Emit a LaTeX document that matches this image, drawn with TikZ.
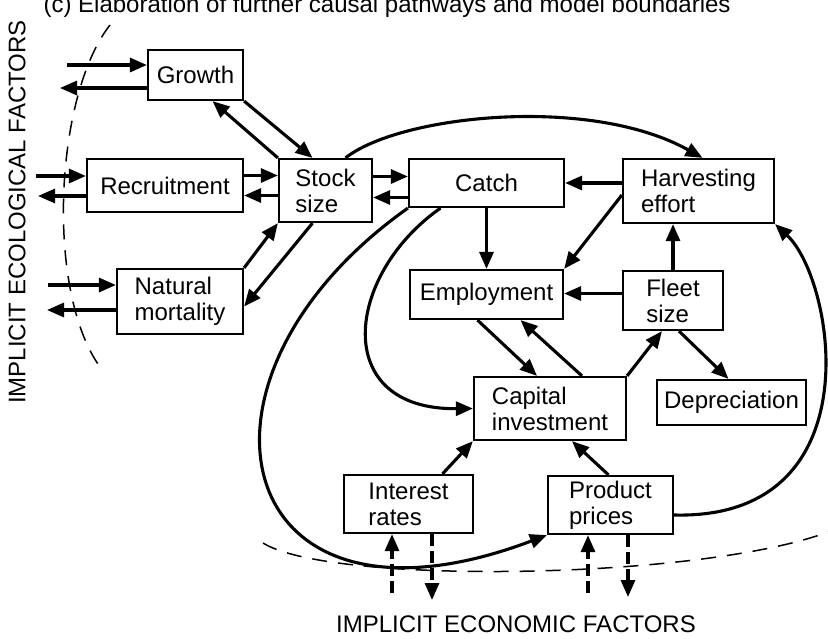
\documentclass[tikz,border=0pt]{standalone}
\usepackage{fontspec}
\setmainfont{Liberation Sans}
\usetikzlibrary{arrows.meta}
\tikzstyle{line} = [draw, line width=3.1pt, -{Triangle[length=17pt,width=14pt]}]
\tikzstyle{box} = [draw, line width=2.2pt, align=left, inner sep=0pt]
\tikzstyle{boundary} = [draw, line width=1.5pt, dash pattern=on 15pt off 11pt]
\tikzstyle{outside} = [line, dash pattern=on 12pt off 5pt]

\begin{document}
\begin{tikzpicture}[x=1pt, y=-1pt, font=\fontsize{24}{26}\selectfont]
\useasboundingbox[fill=white] (0,0) rectangle (828,638);

% Heading and boundary labels
\node[anchor=base west] (title) at (40,12) {(c) Elaboration of further causal pathways and model boundaries};
\node[rotate=90] (ecolabel) at (17,212) {IMPLICIT ECOLOGICAL FACTORS};
\node (econlabel) at (516,624) {IMPLICIT ECONOMIC FACTORS};

% Draw the boxes
\foreach \name/\x/\y/\w/\h/\txt in {growth/195.5/75/95/50/{Growth},
                                    recruit/165/185.5/156/53/{Recruitment},
                                    stock/325.5/190.5/93/63/{Stock\\size},
                                    mortality/180/301.5/126/65/{Natural\\mortality},
                                    catch/486.5/183/155/48/{Catch},
                                    harvest/698.5/191/151/64/{Harvesting\\effort},
                                    employ/486.5/294.5/153/49/{Employment},
                                    fleet/673/300.5/100/59/{Fleet\\size},
                                    capital/550/408.5/152/63/{Capital\\investment},
                                    deprec/731.5/402.5/149/45/{Depreciation},
                                    interest/408.5/504/129/58/{Interest\\rates},
                                    prices/610.5/505/125/58/{Product\\prices}}
    \node[box, minimum width=\w pt, minimum height=\h pt] (\name) at (\x,\y) {\txt};

% Model boundaries (dashed)
\path[boundary] (110,25) .. controls (55,95) and (45,290) .. (100,367);
\path[boundary] (263,543) .. controls (330,585) and (700,580) .. (828,532);

% Ecological inputs and outputs
\coordinate (gin) at (67,65);
\coordinate (gout) at (60,88);
\coordinate (rin) at (36,176);
\coordinate (rout) at (38,196);
\coordinate (mortin) at (48,285);
\coordinate (mortout) at (47,310);
\draw[line] (gin) -- (gin -| growth.west);
\draw[line] (gout -| growth.west) -- (gout);
\draw[line] (rin) -- (rin -| recruit.west);
\draw[line] (rout -| recruit.west) -- (rout);
\draw[line] (mortin) -- (mortin -| mortality.west);
\draw[line] (mortout -| mortality.west) -- (mortout);

% Stock size and its neighbours
\draw[line] (stock.north west) -- ([xshift=17pt]growth.south);
\draw[line] (growth.south east) -- ([xshift=-13pt]stock.north);
\draw[line] ([yshift=10pt]recruit.east) -- ([yshift=10pt]recruit.east -| stock.west);
\draw[line] ([yshift=-10pt]recruit.east -| stock.west) -- ([yshift=-10pt]recruit.east);
\draw[line] (mortality.north east) -- (stock.south west);
\draw[line] ([xshift=-13pt]stock.south) -- ([yshift=-5pt]mortality.east);
\draw[line] ([yshift=14pt]stock.east) -- ([yshift=14pt]stock.east -| catch.west);
\draw[line] ([yshift=-7pt]stock.east -| catch.west) -- ([yshift=-7pt]stock.east);

% Fleet, effort and employment
\draw[line] (harvest.west |- catch.east) -- (catch.east);
\draw[line] ([yshift=-4pt]harvest.west) -- (employ.north east);
\draw[line] (catch.south) -- (employ.north);
\draw[line] ([yshift=7pt]fleet.west) -- ([yshift=7pt]fleet.west -| employ.east);
\draw[line] (fleet.north) -- (fleet.north |- harvest.south);
\draw[line] ([xshift=-9pt]employ.south) -- ([xshift=-13pt]capital.north);
\draw[line] ([xshift=32pt]capital.north) -- ([xshift=34pt]employ.south);
\draw[line] (capital.north east) -- ([xshift=-11pt]fleet.south);
\draw[line] ([xshift=6pt]fleet.south) -- ([xshift=-3pt]deprec.north);
\draw[line] ([xshift=34pt]interest.north) -- (capital.south west);
\draw[line] ([xshift=-2pt]prices.north) -- ([xshift=22pt]capital.south);

% Long feedback loops
\draw[line] ([xshift=20pt]stock.north) .. controls (400,115) and (590,95) .. ([xshift=4pt]harvest.north);
\draw[line] ([xshift=-46pt]catch.south) .. controls (345,275) and (330,410) .. (capital.west);
\draw[line] (catch.south west) .. controls (165,380) and (230,655) .. (prices.south west);
\draw[line] ([yshift=-10pt]prices.east) .. controls (875,520) and (835,280) .. (harvest.south east);

% Economic inputs and outputs (dashed)
\coordinate (iin) at (392,593);
\coordinate (iout) at (432,600);
\coordinate (pin) at (588,593);
\coordinate (pout) at (628,597);
\draw[outside] (iin) -- (iin |- interest.south);
\draw[outside] (iout |- interest.south) -- (iout);
\draw[outside] (pin) -- (pin |- prices.south);
\draw[outside] (pout |- prices.south) -- (pout);

\end{tikzpicture}
\end{document}
